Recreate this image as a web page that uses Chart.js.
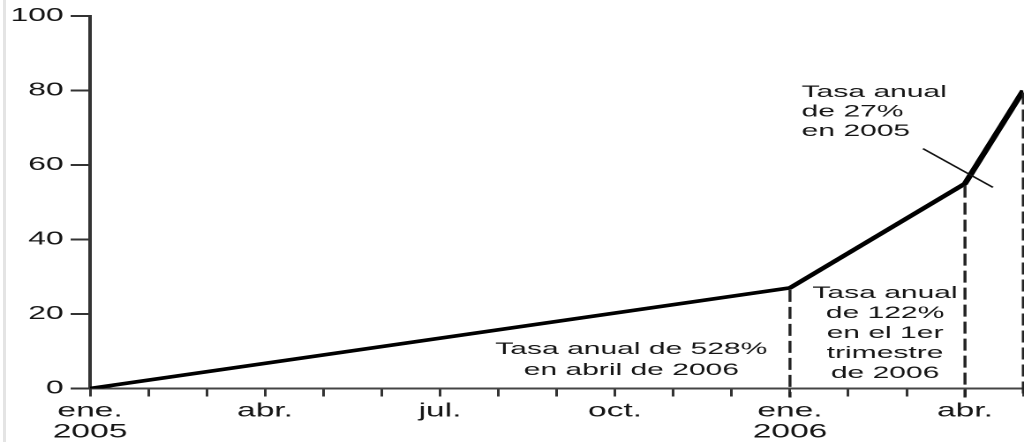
<!DOCTYPE html>
<html>
<head>
<meta charset="utf-8">
<script src="https://cdn.jsdelivr.net/npm/chart.js@4.4.0/dist/chart.umd.min.js"></script>
<style>
  html, body { margin: 0; padding: 0; background: #fff; overflow: hidden; }
  #wrap { position: relative; width: 1024px; height: 442px; }
  #edge { position: absolute; left: 3px; top: 0; width: 3px; height: 442px; background: #e4e4e4; }
  /* the source picture is stretched sideways, so draw narrow and widen */
  #chart { position: absolute; left: 0; top: 0; transform-origin: 0 0; transform: scaleX(1.7655); }
</style>
</head>
<body>
<div id="wrap">
  <canvas id="chart" width="580" height="442"></canvas>
  <div id="edge"></div>
</div>
<script>
'use strict';

// ---- data (x = months since ene. 2005) ----
const months = [0, 12, 15, 16];
const values = [0, 27, 55, 80];

// x-axis labels
const tickMonths = [0, 3, 6, 9, 12, 15];
const tickTexts  = [['ene.', '2005'], 'abr.', 'jul.', 'oct.', ['ene.', '2006'], 'abr.'];

// dashed drop lines at these data points (index into months/values)
const dropIdx = [1, 2, 3];

// annotations: text lines and anchor (month, value of first line)
const noteLines  = [
    ['Tasa anual de 528%', 'en abril de 2006'],
    ['Tasa anual', 'de 122%', 'en el 1er', 'trimestre', 'de 2006'],
    ['Tasa anual', 'de 27%', 'en 2005']
];
const noteAnchor = [[9.28, 10.5], [13.63, 25.5], [12.2, 79.5]];
const noteAlign  = ['center', 'center', 'left'];
const noteGap    = [21, 20, 19.5];

// pointer stroke near abr. 2006
const pointerFrom = [14.28, 64.4];
const pointerTo   = [15.48, 54.0];

const FONT = '"Liberation Sans", Arial, Helvetica, sans-serif';
const INK  = '#151515';

const overlay = {
    id: 'overlay',
    afterDatasetsDraw(chart) {
        const { ctx, scales: { x, y } } = chart;
        const base = y.getPixelForValue(0);
        ctx.save();

        // dashed verticals
        ctx.strokeStyle = '#222';
        ctx.lineWidth = 1.7;
        ctx.setLineDash([12, 5]);
        dropIdx.forEach(i => {
            const px = x.getPixelForValue(months[i]);
            ctx.beginPath();
            ctx.moveTo(px, y.getPixelForValue(values[i]) + 2);
            ctx.lineTo(px, base + 9);
            ctx.stroke();
        });
        ctx.setLineDash([]);

        // pointer
        ctx.lineWidth = 1.3;
        ctx.strokeStyle = '#111';
        ctx.beginPath();
        ctx.moveTo(x.getPixelForValue(pointerFrom[0]), y.getPixelForValue(pointerFrom[1]));
        ctx.lineTo(x.getPixelForValue(pointerTo[0]), y.getPixelForValue(pointerTo[1]));
        ctx.stroke();

        // notes
        ctx.fillStyle = INK;
        ctx.font = '17px ' + FONT;
        ctx.textBaseline = 'middle';
        noteLines.forEach((lines, n) => {
            const px = x.getPixelForValue(noteAnchor[n][0]);
            const py = y.getPixelForValue(noteAnchor[n][1]);
            ctx.textAlign = noteAlign[n];
            lines.forEach((t, k) => ctx.fillText(t, px, py + k * noteGap[n]));
        });
        ctx.restore();
    }
};

new Chart(document.getElementById('chart'), {
    type: 'line',
    data: {
        datasets: [{
            data: months.map((m, i) => ({ x: m, y: values[i] })),
            borderColor: '#000',
            borderWidth: 3.6,
            pointRadius: 0,
            tension: 0,
            fill: false
        }]
    },
    options: {
        responsive: false,
        devicePixelRatio: 2,
        animation: false,
        layout: { padding: { top: 16, right: 0, left: 0, bottom: 0 } },
        plugins: { legend: { display: false }, tooltip: { enabled: false } },
        scales: {
            x: {
                type: 'linear', min: 0, max: 16,
                afterFit: s => { s.height = 53.5; s.paddingLeft = 0; s.paddingRight = 0.4; },
                grid: { drawOnChartArea: false, drawTicks: true, tickLength: 8, color: '#333', lineWidth: 1.5 },
                border: { display: true, color: '#444', width: 2 },
                ticks: {
                    stepSize: 1, autoSkip: false, maxRotation: 0, padding: 4,
                    color: INK, font: { family: FONT, size: 19, lineHeight: 1.12 },
                    callback: v => {
                        const k = tickMonths.indexOf(v);
                        return k >= 0 ? tickTexts[k] : '';
                    }
                }
            },
            y: {
                min: 0, max: 100,
                afterFit: s => { s.width = 51; },
                grid: { drawOnChartArea: false, drawTicks: true, tickLength: 11, color: '#333', lineWidth: 2 },
                border: { display: true, color: '#333', width: 2 },
                ticks: { stepSize: 20, padding: 4, color: INK, font: { family: FONT, size: 18 } }
            }
        }
    },
    plugins: [overlay]
});
</script>
</body>
</html>
